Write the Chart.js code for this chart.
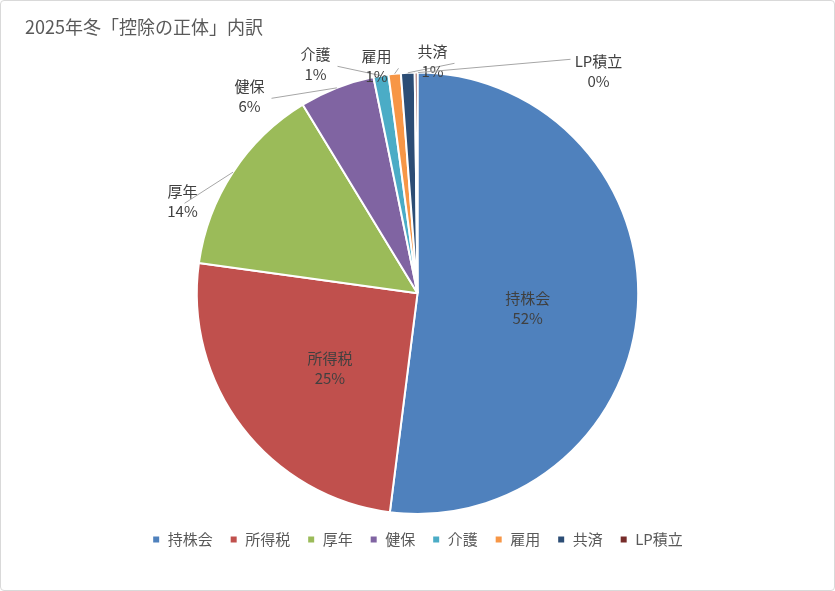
<!DOCTYPE html>
<html><head><meta charset="utf-8">
<script src="https://cdn.jsdelivr.net/npm/chart.js@4/dist/chart.umd.min.js"></script>
<style>
body{margin:0;background:#fff;}
#wrap{position:absolute;left:0;top:0;width:833px;height:589px;border:1px solid #d9d9d9;border-radius:4px;}
</style></head>
<body>
<div id="wrap"><canvas id="c" width="833" height="589"></canvas></div>
<script>
const categories = ["持株会", "所得税", "厚年", "健保", "介護", "雇用", "共済", "LP積立"];
const amounts = [52.0, 25.2, 14.1, 5.5, 1.1, 0.9, 1.0, 0.2];
const percentLabels = ["52%", "25%", "14%", "6%", "1%", "1%", "1%", "0%"];
const colors = ["#4F81BD", "#C0504D", "#9BBB59", "#8064A2", "#4BACC6", "#F79646", "#2C4D75", "#772C2A"];
// label layout: inside labels use fraction of radius, outside ones an offset from centre
const outsideLabels = {2: [-235, -100], 3: [-168, -205], 4: [-102, -237], 5: [-41, -235], 6: [15, -240], 7: [181, -230]};
const insideRadius = {0: 0.5, 1: 0.5};

const labelPlugin = {
    id: "sliceLabels",
    afterDatasetsDraw(chart) {
        const ctx = chart.ctx;
        const arcs = chart.getDatasetMeta(0).data;
        ctx.save();
        ctx.font = "15px 'Noto Sans CJK JP', sans-serif";
        ctx.fillStyle = "#404040";
        ctx.textAlign = "center";
        arcs.forEach((arc, i) => {
            const mid = (arc.startAngle + arc.endAngle) / 2;
            let x, y;
            if (insideRadius[i] !== undefined) {
                x = arc.x + Math.cos(mid) * arc.outerRadius * insideRadius[i];
                y = arc.y + Math.sin(mid) * arc.outerRadius * insideRadius[i];
            } else {
                x = arc.x + outsideLabels[i][0];
                y = arc.y + outsideLabels[i][1];
                const ex = arc.x + Math.cos(mid) * arc.outerRadius;
                const ey = arc.y + Math.sin(mid) * arc.outerRadius;
                ctx.strokeStyle = "#a6a6a6";
                ctx.lineWidth = 1;
                ctx.beginPath();
                if (i === 7) {
                    ctx.moveTo(x - 28, y - 4);
                    ctx.lineTo(ex + 2, ey);
                } else if (i === 2) {
                    ctx.moveTo(x + 2, y + 10);
                    ctx.lineTo(ex, ey);
                } else {
                    ctx.moveTo(x + 22, y + 10);
                    ctx.lineTo(ex, ey);
                }
                ctx.stroke();
            }
            ctx.fillText(categories[i], x, y - 2);
            ctx.fillText(percentLabels[i], x, y + 18);
        });
        ctx.restore();
    }
};

new Chart(document.getElementById("c"), {
    type: "pie",
    data: {
        labels: categories,
        datasets: [{ data: amounts, backgroundColor: colors, borderColor: "#fff", borderWidth: 2 }]
    },
    options: {
        responsive: false,
        animation: false,
        layout: { padding: { top: 7, bottom: 33, left: 24, right: 24 } },
        plugins: {
            title: { display: true, text: "2025年冬「控除の正体」内訳", align: "start", color: "#595959",
                font: { size: 18, family: "'Noto Sans CJK JP', sans-serif", weight: "normal" }, padding: { top: 8, bottom: 34 } },
            legend: { position: "bottom", labels: { boxWidth: 8, boxHeight: 8, color: "#595959", padding: 17,
                font: { size: 15, family: "'Noto Sans CJK JP', sans-serif" } } },
            tooltip: { enabled: false }
        }
    },
    plugins: [labelPlugin]
});
</script>
</body></html>
